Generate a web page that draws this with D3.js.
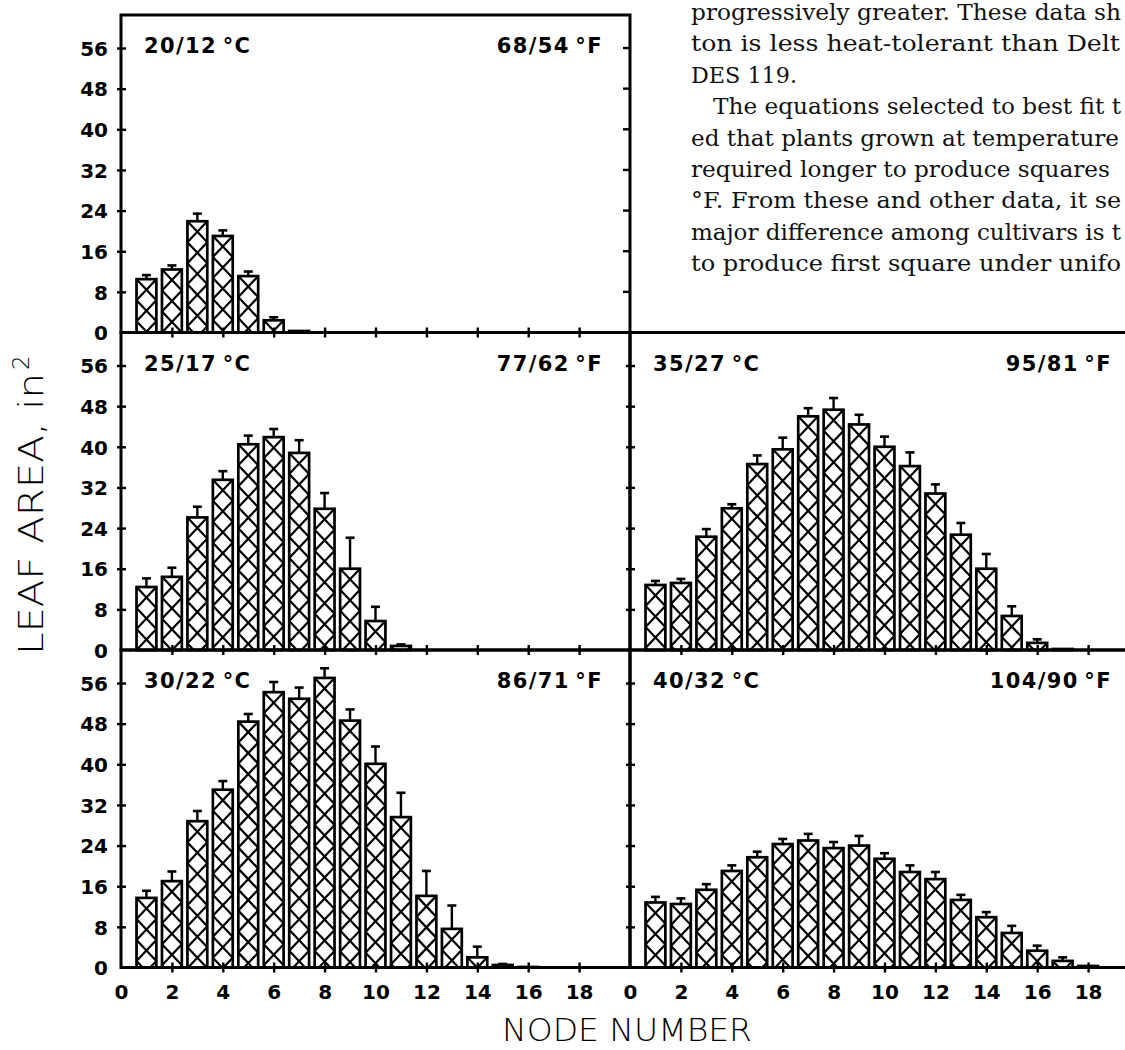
<!DOCTYPE html>
<html>
<head>
<meta charset="utf-8">
<script src="https://cdn.jsdelivr.net/npm/d3@7"></script>
<style>
  html, body { margin: 0; padding: 0; background: #fff; }
  svg { display: block; }
</style>
</head>
<body>
<svg id="chart" width="1125" height="1050"></svg>
<script>
// Leaf area (in²) of the leaf at each main-stem node, five day/night temperature regimes.
// Bars are means; the capped line above each bar is the standard error.
const tempC = ["20/12\u2009°C", "25/17\u2009°C", "30/22\u2009°C", "35/27\u2009°C", "40/32\u2009°C"];
const tempF = ["68/54\u2009°F", "77/62\u2009°F", "86/71\u2009°F", "95/81\u2009°F", "104/90\u2009°F"];

const area20 = [10.5, 12.4, 21.9, 19.0, 11.1, 2.4, 0.3];
const se20   = [0.8, 0.8, 1.5, 1.1, 0.9, 0.6, 0];

const area25 = [12.4, 14.4, 26.1, 33.5, 40.5, 41.9, 38.8, 27.8, 16.0, 5.7, 0.8];
const se25   = [1.7, 1.8, 2.1, 1.7, 1.7, 1.6, 2.5, 3.1, 6.1, 2.8, 0.3];

const area30 = [13.7, 17.0, 28.8, 35.0, 48.4, 54.2, 52.9, 57.0, 48.6, 40.1, 29.6, 14.1, 7.6, 2.0, 0.5, 0.1];
const se30   = [1.4, 1.9, 2.0, 1.7, 1.5, 2.0, 2.2, 1.9, 2.2, 3.4, 4.8, 4.9, 4.6, 2.1, 0.2, 0];

const area35 = [12.8, 13.2, 22.3, 27.9, 36.6, 39.5, 46.0, 47.3, 44.4, 40.0, 36.2, 30.8, 22.7, 16.0, 6.7, 1.4, 0.2];
const se35   = [0.8, 0.8, 1.5, 0.8, 1.7, 2.3, 1.6, 2.3, 1.9, 2.0, 2.7, 1.8, 2.3, 2.9, 1.9, 0.7, 0];

const area40 = [12.8, 12.5, 15.3, 19.0, 21.7, 24.3, 25.0, 23.5, 24.0, 21.4, 18.8, 17.4, 13.3, 9.9, 6.8, 3.3, 1.3, 0.3];
const se40   = [1.1, 1.1, 1.1, 1.1, 1.1, 1.0, 1.3, 1.2, 1.9, 1.1, 1.3, 1.4, 1.0, 1.0, 1.4, 1.0, 0.7, 0];

const yTicks = [0, 8, 16, 24, 32, 40, 48, 56];
const xTicks = [0, 2, 4, 6, 8, 10, 12, 14, 16, 18];
const yTitle = "LEAF AREA, in";
const xTitle = "NODE NUMBER";

// running text of the page set beside the figure
const paragraph = [
  "progressively greater. These data sh",
  "ton is less heat-tolerant than Delt",
  "DES 119.",
  "The equations selected to best fit t",
  "ed that plants grown at temperature",
  "required longer to produce squares",
  "°F. From these and other data, it se",
  "major difference among cultivars is t",
  "to produce first square under unifo"
];

// ---- layout ----
const svg = d3.select("#chart");
const rowTop = [15, 332.5, 650];
const rowH = 317.5;
const colRange = [[121, 630], [630, 1139]];
const ink = "#000";
const labelFont = "'DejaVu Sans', 'Liberation Sans', sans-serif";
const titleFont = "'DejaVu Sans', 'Liberation Sans', sans-serif";

const panels = [
  { c: 0, values: area20, se: se20, col: 0, row: 0 },
  { c: 1, values: area25, se: se25, col: 0, row: 1 },
  { c: 2, values: area30, se: se30, col: 0, row: 2 },
  { c: 3, values: area35, se: se35, col: 1, row: 1 },
  { c: 4, values: area40, se: se40, col: 1, row: 2 }
];

panels.forEach(p => {
  const x = d3.scaleLinear().domain([0, 20]).range(colRange[p.col]);
  const y = d3.scaleLinear().domain([0, 62.5]).range([rowTop[p.row] + rowH, rowTop[p.row]]);
  const g = svg.append("g");
  const bw = x(0.78) - x(0);
  const cellH = 21;

  // bars with diagonal cross-hatching
  const data = p.values.map((v, i) => ({ node: i + 1, v, se: p.se[i] }));
  const bars = g.selectAll("g.bar").data(data).join("g").attr("class", "bar");
  bars.append("rect")
    .attr("x", d => x(d.node) - bw / 2)
    .attr("y", d => y(d.v))
    .attr("width", bw)
    .attr("height", d => y(0) - y(d.v))
    .attr("fill", "#fff");
  bars.each(function (d) {
    const x0 = x(d.node) - bw / 2, x1 = x(d.node) + bw / 2;
    const top = y(d.v), bot = y(0);
    const h = bot - top;
    if (h < 4) return;
    const segs = [];
    for (let k = 0; k * cellH < h; k++) {
      const tMax = Math.min(1, h / cellH - k);
      const ya = top + k * cellH, yb = top + (k + tMax) * cellH;
      segs.push([x0, ya, x0 + tMax * bw, yb]);
      segs.push([x1, ya, x1 - tMax * bw, yb]);
    }
    d3.select(this).selectAll("line.hatch").data(segs).join("line")
      .attr("class", "hatch")
      .attr("x1", s => s[0]).attr("y1", s => s[1])
      .attr("x2", s => s[2]).attr("y2", s => s[3])
      .attr("stroke", ink).attr("stroke-width", 2.2);
  });
  bars.append("rect")
    .attr("x", d => x(d.node) - bw / 2)
    .attr("y", d => y(d.v))
    .attr("width", bw)
    .attr("height", d => y(0) - y(d.v))
    .attr("fill", "none").attr("stroke", ink).attr("stroke-width", 2.7);

  // standard-error whiskers
  const err = data.filter(d => d.se > 0);
  g.selectAll("line.err").data(err).join("line").attr("class", "err")
    .attr("x1", d => x(d.node)).attr("x2", d => x(d.node))
    .attr("y1", d => y(d.v)).attr("y2", d => y(d.v + d.se))
    .attr("stroke", ink).attr("stroke-width", 2.4);
  g.selectAll("line.cap").data(err).join("line").attr("class", "cap")
    .attr("x1", d => x(d.node) - 4.5).attr("x2", d => x(d.node) + 4.5)
    .attr("y1", d => y(d.v + d.se)).attr("y2", d => y(d.v + d.se))
    .attr("stroke", ink).attr("stroke-width", 2.6);

  // left axis: ticks cross the line, labels only on the left column
  const yAxis = d3.axisLeft(y).tickValues(yTicks).tickSize(4).tickPadding(9)
    .tickFormat(p.col === 0 ? d3.format("d") : () => "");
  const ya = g.append("g").attr("transform", `translate(${x(0)},0)`).call(yAxis);
  ya.select(".domain").remove();
  ya.selectAll(".tick line").attr("x1", -4).attr("x2", 5).attr("stroke", ink).attr("stroke-width", 2.4);
  ya.selectAll(".tick text").attr("font-family", labelFont).attr("font-weight", "bold")
    .attr("font-size", 20).attr("fill", ink).attr("dy", "0.36em");
  ya.selectAll(".tick").filter(d => d === 0).select("line").remove();

  // bottom axis: crossing ticks, numbers only under the bottom row
  const xAxis = d3.axisBottom(x).tickValues(xTicks).tickSize(5).tickPadding(12)
    .tickFormat(p.row === 2 ? d3.format("d") : () => "");
  const xa = g.append("g").attr("transform", `translate(0,${y(0)})`).call(xAxis);
  xa.select(".domain").remove();
  xa.selectAll(".tick line").attr("y1", -5).attr("y2", 5).attr("stroke", ink).attr("stroke-width", 2.4);
  xa.selectAll(".tick").filter(d => d === 0).select("line").remove();
  xa.selectAll(".tick text").attr("font-family", labelFont).attr("font-weight", "bold")
    .attr("font-size", 20).attr("fill", ink);

  // frame
  const L = x(0), R = x(20), T = y(62.5), B = y(0);
  g.append("path")
    .attr("d", p.col === 0 ? `M${R},${B}H${L}V${T}H${R}V${B}` : `M${L},${T}V${B}M${L},${B}H${R}M${L},${T}H${R}`)
    .attr("fill", "none").attr("stroke", ink).attr("stroke-width", 3).attr("stroke-linecap", "square");

  // inward ticks on the open right edge of the top panel
  if (p.row === 0) {
    g.selectAll("line.rt").data(yTicks.slice(1)).join("line").attr("class", "rt")
      .attr("x1", R - 7).attr("x2", R)
      .attr("y1", d => y(d)).attr("y2", d => y(d))
      .attr("stroke", ink).attr("stroke-width", 2.4);
  }

  // temperature labels
  g.append("text").attr("x", L + 23).attr("y", T + 38)
    .attr("font-family", labelFont).attr("font-weight", "bold").attr("font-size", 21)
    .attr("letter-spacing", 1.4).attr("fill", ink).text(tempC[p.c]);
  g.append("text").attr("x", L + 482).attr("y", T + 38).attr("text-anchor", "end")
    .attr("font-family", labelFont).attr("font-weight", "bold").attr("font-size", 21)
    .attr("letter-spacing", 1.4).attr("fill", ink).text(tempF[p.c]);
});

// axis titles
const yt = svg.append("text")
  .attr("transform", "translate(43,655) rotate(-90)")
  .attr("font-family", titleFont).attr("font-weight", 200).attr("font-size", 33).attr("fill", ink);
yt.append("tspan").attr("textLength", 282).attr("lengthAdjust", "spacingAndGlyphs").text(yTitle);
yt.append("tspan").attr("dx", 3).attr("dy", -14).attr("font-size", 23).text("2");

svg.append("text")
  .attr("x", 502).attr("y", 1041)
  .attr("textLength", 250).attr("lengthAdjust", "spacingAndGlyphs")
  .attr("font-family", titleFont).attr("font-weight", 200).attr("font-size", 32).attr("fill", ink)
  .text(xTitle);

// body text in the upper right
const lineStart = [691, 691, 691, 713, 691, 691, 691, 691, 691];
const lineEnd = [1121, 1120, 797, 1121, 1119, 1110, 1121, 1121, 1121];
svg.append("g").selectAll("text").data(paragraph).join("text")
  .attr("x", (d, i) => lineStart[i])
  .attr("y", (d, i) => 20 + i * 31.4)
  .attr("textLength", (d, i) => lineEnd[i] - lineStart[i])
  .attr("lengthAdjust", "spacingAndGlyphs")
  .attr("font-family", "'DejaVu Serif', 'Liberation Serif', serif")
  .attr("font-size", 23).attr("fill", "#111")
  .text(d => d);
</script>
</body>
</html>
